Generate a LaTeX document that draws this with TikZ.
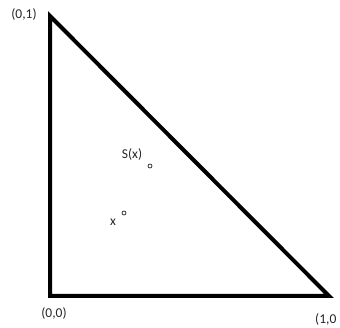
\documentclass[tikz,border=0pt]{standalone}
\usepackage{fontspec}
\setmainfont{Carlito}
\usepackage{tikz}
\usetikzlibrary{calc}

\begin{document}
\begin{tikzpicture}[x=1pt,y=-1pt]
\tikzset{
  lbl/.style={font=\fontsize{13.5}{15}\selectfont,text=black!85,inner sep=0pt},
  dot/.style={draw=black!80,line width=0.8pt}
}
\useasboundingbox (0,0) rectangle (340,328);

% Triangle corners
\coordinate (top) at (50,16);
\coordinate (orig) at (50,296);
\coordinate (right) at (329,296);
\draw[line width=4pt,line join=miter] (top)--(orig)--(right)--cycle;

% Corner labels
\node[lbl] (ltop) at (24,15) {(0,1)};
\node[lbl] (lorig) at (54,313) {(0,0)};
\node[lbl,anchor=west] (lright) at (315,320) {(1,0};

% Points
\node[lbl] (sx) at (132,155) {S(x)};
\draw[dot] (150,166) circle (2);
\node[lbl] (px) at (113,222) {x};
\draw[dot] (124,213) circle (2);

\end{tikzpicture}
\end{document}
